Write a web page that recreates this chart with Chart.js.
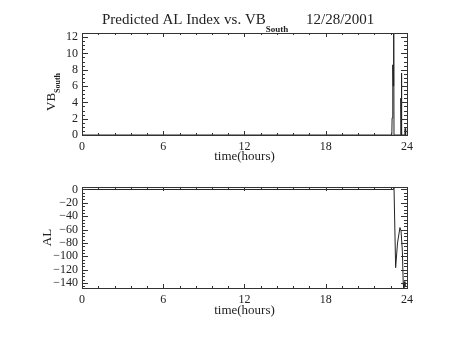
<!DOCTYPE html>
<html>
<head>
<meta charset="utf-8">
<script src="https://cdn.jsdelivr.net/npm/chart.js@4/dist/chart.umd.min.js"></script>
<style>
  html, body { margin: 0; padding: 0; background: #fff; }
  #wrap { position: relative; width: 454px; height: 341px; }
  canvas { position: absolute; left: 0; }
  #top { top: 0; }
  #bottom { top: 170px; }
</style>
</head>
<body>
<div id="wrap">
  <canvas id="top" width="454" height="170"></canvas>
  <canvas id="bottom" width="454" height="171"></canvas>
</div>
<script>
// data (time in hours)
const hoursVB = [0, 22.88, 22.90, 22.95, 22.98, 23.02, 23.04, 23.52, 23.54, 23.56, 23.58, 23.62, 23.84, 23.86, 23.90];
const vbSouth = [0, 0, 2.1, 8.6, 6.0, 12.5, 0, 0, 4.5, 3.8, 7.6, 0, 0, 0.8, 0];

const hoursAL = [0, 23.00, 23.04, 23.16, 23.30, 23.48, 23.56, 23.66, 23.72, 23.76, 23.80, 23.85];
const alIndex = [0, 0, 3.7, -117, -80, -57, -62, -93, -140, -147.5, -138, -146];

const xTicks = [0, 6, 12, 18, 24];
const vbTicks = [0, 2, 4, 6, 8, 10, 12];
const alTicks = [0, -20, -40, -60, -80, -100, -120, -140];

const lineColor = '#222';
const axisColor = '#333';
const tickFont = { family: 'Liberation Serif', size: 12 };
const titleFont = { family: 'Liberation Serif', size: 13 };

function minus(v) {
  return v < 0 ? '\u2212' + Math.abs(v) : String(v);
}

// IDL style box with inward ticks on all four sides
const idlBox = {
  id: 'idlBox',
  afterDatasetsDraw(chart, args, opts) {
    const { ctx, chartArea: a, scales: { x, y } } = chart;
    ctx.save();
    ctx.strokeStyle = axisColor;
    ctx.lineWidth = 1;
    ctx.strokeRect(Math.round(a.left) + 0.5, Math.round(a.top) + 0.5,
      Math.round(a.right - a.left), Math.round(a.bottom - a.top));
    ctx.beginPath();
    for (let v = x.min; v <= x.max + 1e-6; v += opts.xMinor) {
      const px = Math.round(x.getPixelForValue(v)) + 0.5;
      const major = Math.abs(v / opts.xMajor - Math.round(v / opts.xMajor)) < 1e-6;
      const len = major ? 4 : 2;
      ctx.moveTo(px, a.bottom); ctx.lineTo(px, a.bottom - len);
      ctx.moveTo(px, a.top); ctx.lineTo(px, a.top + len);
    }
    const start = Math.ceil(y.min / opts.yMinor - 1e-6) * opts.yMinor;
    for (let v = start; v <= y.max + 1e-6; v += opts.yMinor) {
      const py = Math.round(y.getPixelForValue(v)) + 0.5;
      const major = Math.abs(v / opts.yMajor - Math.round(v / opts.yMajor)) < 1e-6;
      const len = major ? 6 : 3;
      ctx.moveTo(a.left, py); ctx.lineTo(a.left + len, py);
      ctx.moveTo(a.right, py); ctx.lineTo(a.right - len, py);
    }
    ctx.stroke();
    ctx.restore();
  }
};

// main title and the VB_South label need subscripts, drawn here
const idlText = {
  id: 'idlText',
  afterDraw(chart, args, opts) {
    if (!opts.main) return;
    const ctx = chart.ctx;
    ctx.save();
    ctx.fillStyle = '#222';
    ctx.textBaseline = 'alphabetic';
    ctx.font = '15px "Liberation Serif"';
    ctx.fillText('Predicted AL Index vs. VB', 102, 24);
    let w = ctx.measureText('Predicted AL Index vs. VB').width;
    ctx.font = 'bold 9px "Liberation Serif"';
    ctx.fillText('South', 102 + w, 32);
    ctx.font = '15px "Liberation Serif"';
    ctx.fillText('12/28/2001', 306, 24);

    // rotated y label
    ctx.translate(55, 111);
    ctx.rotate(-Math.PI / 2);
    ctx.font = '13px "Liberation Serif"';
    ctx.fillText('VB', 0, 0);
    w = ctx.measureText('VB').width;
    ctx.font = 'bold 8px "Liberation Serif"';
    ctx.fillText('South', w, 5);
    ctx.restore();
  }
};

function makeOptions(cfg) {
  return {
    responsive: false,
    animation: false,
    layout: { padding: { top: cfg.padTop, right: 47, left: 0, bottom: 0 } },
    plugins: {
      legend: { display: false },
      tooltip: { enabled: false },
      idlBox: { xMinor: 1.2, xMajor: 6, yMinor: cfg.yMinor, yMajor: cfg.yMajor },
      idlText: { main: cfg.main }
    },
    scales: {
      x: {
        type: 'linear',
        min: 0,
        max: 24,
        afterFit(s) { s.height = cfg.xHeight; },
        afterBuildTicks(s) { s.ticks = xTicks.map(v => ({ value: v })); },
        grid: { display: false, drawTicks: false },
        border: { display: false },
        ticks: { color: '#222', font: tickFont, padding: 5, maxRotation: 0, autoSkip: false },
        title: {
          display: true, text: 'time(hours)', color: '#222', font: titleFont,
          padding: { top: 0, bottom: cfg.xTitlePad }
        }
      },
      y: {
        min: cfg.yMin,
        max: cfg.yMax,
        afterFit(s) { s.width = 82; },
        afterBuildTicks(s) { s.ticks = cfg.yTicks.map(v => ({ value: v })); },
        grid: { display: false, drawTicks: false },
        border: { display: false },
        ticks: {
          color: '#222', font: tickFont, padding: 4, autoSkip: false,
          callback: v => minus(v)
        },
        title: {
          display: cfg.yTitle !== '', text: cfg.yTitle, color: '#222', font: titleFont,
          padding: { top: 40, bottom: 0 }
        }
      }
    }
  };
}

new Chart(document.getElementById('top'), {
  type: 'line',
  data: {
    datasets: [{
      data: hoursVB.map((t, i) => ({ x: t, y: vbSouth[i] })),
      borderColor: lineColor,
      borderWidth: 1,
      pointRadius: 0,
      tension: 0
    }]
  },
  options: makeOptions({
    padTop: 33, xHeight: 35, xTitlePad: 6, yMin: 0, yMax: 12.5,
    yMajor: 2, yMinor: 0.5, yTicks: vbTicks, yTitle: '', main: true
  }),
  plugins: [idlBox, idlText]
});

new Chart(document.getElementById('bottom'), {
  type: 'line',
  data: {
    datasets: [{
      data: hoursAL.map((t, i) => ({ x: t, y: alIndex[i] })),
      borderColor: lineColor,
      borderWidth: 1,
      pointRadius: 0,
      tension: 0
    }]
  },
  options: makeOptions({
    padTop: 17, xHeight: 53, xTitlePad: 23, yMin: -147.5, yMax: 3.7,
    yMajor: 20, yMinor: 5, yTicks: alTicks, yTitle: 'AL', main: false
  }),
  plugins: [idlBox, idlText]
});
</script>
</body>
</html>
